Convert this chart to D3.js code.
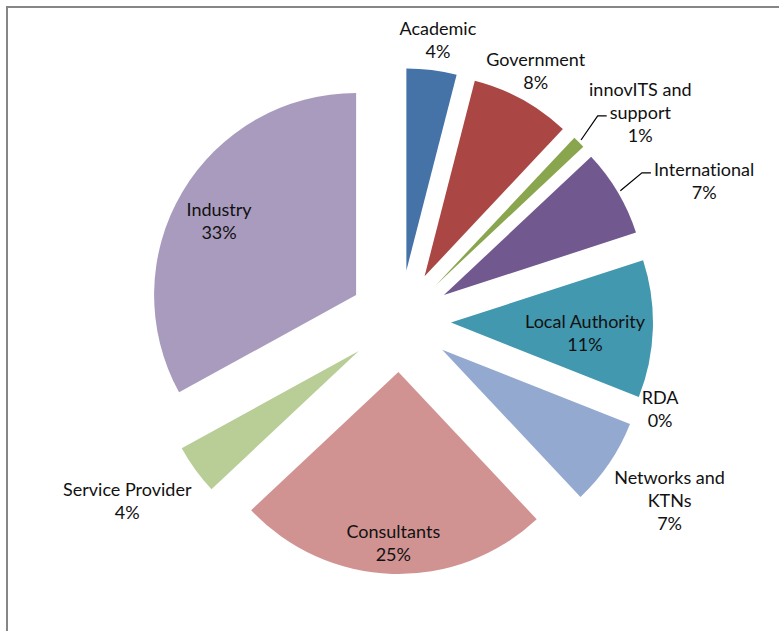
<!DOCTYPE html>
<html>
<head>
<meta charset="utf-8">
<script src="https://cdn.jsdelivr.net/npm/d3@7"></script>
<style>
  html, body { margin: 0; padding: 0; background: #fff; }
  svg { display: block; }
  text { font-variant-ligatures: none; font-feature-settings: "liga" 0; }
</style>
</head>
<body>
<svg id="chart" width="779" height="631"></svg>
<script>
// Share of participants by organisation type (percent)
const categories = ["Academic", "Government", "innovITS and support", "International",
  "Local Authority", "RDA", "Networks and KTNs", "Consultants", "Service Provider", "Industry"];
const shares = [4, 8, 1, 7, 11, 0, 7, 25, 4, 33];
const sliceColors = ["#4572A7", "#AA4643", "#89A54E", "#71588F", "#4198AF",
  "#DB843D", "#93A9CF", "#D19392", "#B9CD96", "#A99BBD"];
// How each category name wraps inside its label
const labelLines = [["Academic"], ["Government"], ["innovITS and", "support"], ["International"],
  ["Local Authority"], ["RDA"], ["Networks and", "KTNs"], ["Consultants"], ["Service Provider"], ["Industry"]];

// Layout
const W = 779, H = 631;
const cx = 400, cy = 321;       // pie centre
const radius = 202;
const explode = 51;             // every slice pulled out from the centre
const lineGap = 23;
// label placement: distance from the slice tip and turn from the slice's mid angle (deg)
const labelDistance = [232, 233, 267, 284, 134.5, 223.6, 273, 171.5, 276, 155.5];
const labelTurn = [0.6, -0.3, 4.9, 7.0, 2.9, -3.6, -0.6, -0.1, 3.0, -2.4];
// leader lines: which text line the connector meets (-1 = no connector)
const leaderLine = [-1, -1, 1, 0, -1, -1, -1, -1, -1, -1];

const svg = d3.select("#chart");

// chart frame
svg.append("rect")
  .attr("x", 7).attr("y", 7)
  .attr("width", W + 40).attr("height", H + 40)
  .attr("fill", "#fff")
  .attr("stroke", "#868686")
  .attr("stroke-width", 2);

const pie = d3.pie().sort(null).value(d => d);
const arcs = pie(shares);
const arc = d3.arc().innerRadius(0).outerRadius(radius);

const polar = (ang, r) => [r * Math.sin(ang), -r * Math.cos(ang)];
const rad = deg => deg * Math.PI / 180;

const g = svg.append("g").attr("transform", `translate(${cx},${cy})`);

const tips = arcs.map(a => polar((a.startAngle + a.endAngle) / 2, explode));

g.selectAll("path.slice")
  .data(arcs)
  .join("path")
  .attr("class", "slice")
  .attr("transform", (d, i) => `translate(${tips[i][0]},${tips[i][1]})`)
  .attr("d", arc)
  .attr("fill", (d, i) => sliceColors[i]);

// data labels
const labels = g.append("g")
  .attr("font-family", "Lato, 'Open Sans', sans-serif")
  .attr("font-size", 18)
  .attr("fill", "#111");

arcs.forEach((a, i) => {
  const mid = (a.startAngle + a.endAngle) / 2;
  const off = polar(mid + rad(labelTurn[i]), labelDistance[i]);
  const lx = tips[i][0] + off[0];
  const ly = tips[i][1] + off[1];
  const lines = labelLines[i].concat([shares[i] + "%"]);
  const n = lines.length;
  const texts = lines.map((t, k) => labels.append("text")
    .attr("x", lx)
    .attr("y", ly + (k - (n - 1) / 2) * lineGap)
    .attr("dy", "0.35em")
    .attr("text-anchor", "middle")
    .text(t));

  if (leaderLine[i] >= 0) {
    const k = leaderLine[i];
    const tw = texts[k].node().getComputedTextLength();
    const endX = lx - tw / 2 - 3;
    const endY = ly + (k - (n - 1) / 2) * lineGap + 3;
    const s = polar(mid, radius + 3);
    const start = [tips[i][0] + s[0], tips[i][1] + s[1]];
    labels.append("path")
      .attr("d", d3.line()([start, [endX - 9, endY], [endX, endY]]))
      .attr("fill", "none")
      .attr("stroke", "#000")
      .attr("stroke-width", 1.2);
  }
});
</script>
</body>
</html>
